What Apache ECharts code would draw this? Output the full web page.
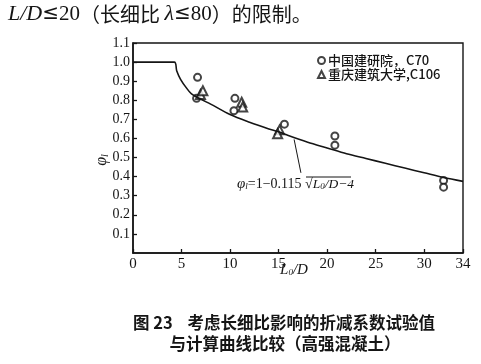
<!DOCTYPE html>
<html><head><meta charset="utf-8">
<script src="https://cdn.jsdelivr.net/npm/echarts@6/dist/echarts.min.js"></script>
<style>html,body{margin:0;padding:0;background:#fff}#c{width:481px;height:364px}</style>
</head><body><div id="c"></div>
<script>
// ---- data ----
var xTicks = [0, 5, 10, 15, 20, 25, 30, 34];
var yTicks = [0.1, 0.2, 0.3, 0.4, 0.5, 0.6, 0.7, 0.8, 0.9, 1.0, 1.1];
var curveX = [0, 4.26, 4.5, 4.9, 5.5, 6, 7, 8, 10, 12, 14, 15, 16, 18, 20, 22, 24, 26, 28, 30, 32, 34];
var curveY = [1.0, 1.0, 0.955, 0.91, 0.865, 0.835, 0.805, 0.78, 0.725, 0.685, 0.65, 0.635, 0.615, 0.58, 0.55, 0.52, 0.495, 0.47, 0.445, 0.42, 0.395, 0.375];
var c70X = [6.65, 6.55, 10.5, 10.4, 15.6, 20.8, 20.8, 32.0, 32.0];
var c70Y = [0.92, 0.81, 0.81, 0.745, 0.675, 0.613, 0.565, 0.38, 0.345];
var c106X = [6.95, 7.2, 11.2, 11.3, 15.1, 14.9];
var c106Y = [0.83, 0.85, 0.79, 0.765, 0.645, 0.625];
var leaderX = [16.6, 17.3];
var leaderY = [0.595, 0.42];
var seriesNames = ['中国建研院，C70', '重庆建筑大学,C106'];

function zip(a, b) { return a.map(function (v, i) { return [v, b[i]]; }); }

var ink = '#151515';
var serif = '"Liberation Serif","DejaVu Serif",serif';
var cjk = '"Noto Sans CJK SC",sans-serif';

var chart = echarts.init(document.getElementById('c'));
chart.setOption({
  animation: false,
  backgroundColor: '#fff',
  grid: { left: 133, right: 18, top: 43, bottom: 111, show: true, borderColor: ink, borderWidth: 1.4, backgroundColor: 'transparent' },
  legend: {
    orient: 'vertical', left: 317, top: 54, itemGap: 1, itemWidth: 7, itemHeight: 7, padding: 0,
    data: seriesNames,
    textStyle: { fontFamily: cjk, fontSize: 13, color: ink, fontWeight: 500, padding: [0, 0, 0, -2] }
  },
  xAxis: {
    type: 'value', min: 0, max: 34,
    axisLine: { lineStyle: { color: ink, width: 1.5 } },
    axisTick: { inside: true, length: 4, customValues: xTicks, lineStyle: { color: ink, width: 1.3 } },
    axisLabel: { customValues: xTicks, margin: 4, color: ink, fontFamily: serif, fontSize: 15 },
    splitLine: { show: false }
  },
  yAxis: {
    type: 'value', min: 0, max: 1.1,
    axisLine: { lineStyle: { color: ink, width: 1.5 } },
    axisTick: { inside: true, length: 4, customValues: yTicks, lineStyle: { color: ink, width: 1.3 } },
    axisLabel: { customValues: yTicks, margin: 3, color: ink, fontFamily: serif, fontSize: 14, formatter: function (v) { return v.toFixed(1); } },
    splitLine: { show: false }
  },
  series: [
    {
      name: 'curve', type: 'line', data: zip(curveX, curveY), smooth: 0.3, showSymbol: false,
      lineStyle: { color: ink, width: 1.6 }, silent: true,
      markLine: {
        symbol: 'none', silent: true, label: { show: false },
        lineStyle: { color: ink, width: 1, type: 'solid' },
        data: [[{ coord: [leaderX[0], leaderY[0]] }, { coord: [leaderX[1], leaderY[1]] }]]
      }
    },
    {
      name: seriesNames[0], type: 'scatter', data: zip(c70X, c70Y), symbol: 'emptyCircle', symbolSize: 7,
      itemStyle: { color: ink, borderColor: ink, borderWidth: 1.2 }
    },
    {
      name: seriesNames[1], type: 'scatter', data: zip(c106X, c106Y), symbol: 'emptyTriangle', symbolSize: 9,
      itemStyle: { color: ink, borderColor: ink, borderWidth: 1.2 }
    }
  ],
  graphic: [
    {
      type: 'text', left: 8, top: 3,
      style: {
        text: '{i|L/D}{le|≤}{n|20}{c|（长细比 }{i|λ}{le|≤}{n|80}{c|）的限制。}',
        rich: {
          i: { fontFamily: serif, fontStyle: 'italic', fontSize: 22, fill: ink },
          n: { fontFamily: serif, fontSize: 21, fill: ink },
          le: { fontFamily: '"DejaVu Sans",sans-serif', fontSize: 20, fill: ink },
          c: { fontFamily: cjk, fontSize: 20, fill: ink }
        }
      }
    },
    {
      type: 'text', x: 102, y: 160, rotation: Math.PI / 2,
      style: {
        text: '{p|φ}{s|l}', align: 'center', verticalAlign: 'middle',
        rich: { p: { fontFamily: serif, fontStyle: 'italic', fontSize: 16, fill: ink }, s: { fontFamily: serif, fontStyle: 'italic', fontSize: 10, fill: ink, padding: [6, 0, 0, 0] } }
      }
    },
    {
      type: 'text', x: 294, y: 270,
      style: {
        text: '{i|L}{s|0}{i|/D}', align: 'center', verticalAlign: 'middle',
        rich: { i: { fontFamily: serif, fontStyle: 'italic', fontSize: 15, fill: ink }, s: { fontFamily: serif, fontStyle: 'italic', fontSize: 9, fill: ink, padding: [6, 0, 0, 0] } }
      }
    },
    {
      type: 'text', x: 237, y: 184,
      style: {
        text: '{p|φ}{s|l}{t|=1−0.115 }{r|√}{i|L}{s|0}{i|/D−4}', verticalAlign: 'middle',
        rich: {
          p: { fontFamily: serif, fontStyle: 'italic', fontSize: 15, fill: ink },
          s: { fontFamily: serif, fontStyle: 'italic', fontSize: 9, fill: ink, padding: [6, 0, 0, 0] },
          t: { fontFamily: serif, fontSize: 14, fill: ink },
          r: { fontFamily: serif, fontSize: 14, fill: ink },
          i: { fontFamily: serif, fontStyle: 'italic', fontSize: 13.5, fill: ink }
        }
      }
    },
    { type: 'line', shape: { x1: 306, y1: 177, x2: 351, y2: 177 }, style: { stroke: ink, lineWidth: 1 } },
    {
      type: 'text', x: 284, y: 323,
      style: { text: '图 23    考虑长细比影响的折减系数试验值', align: 'center', verticalAlign: 'middle', fontFamily: cjk, fontSize: 16.5, fontWeight: 'bold', fill: ink }
    },
    {
      type: 'text', x: 285, y: 344,
      style: { text: '与计算曲线比较（高强混凝土）', align: 'center', verticalAlign: 'middle', fontFamily: cjk, fontSize: 16.5, fontWeight: 'bold', fill: ink }
    }
  ]
});
</script>
</body></html>
